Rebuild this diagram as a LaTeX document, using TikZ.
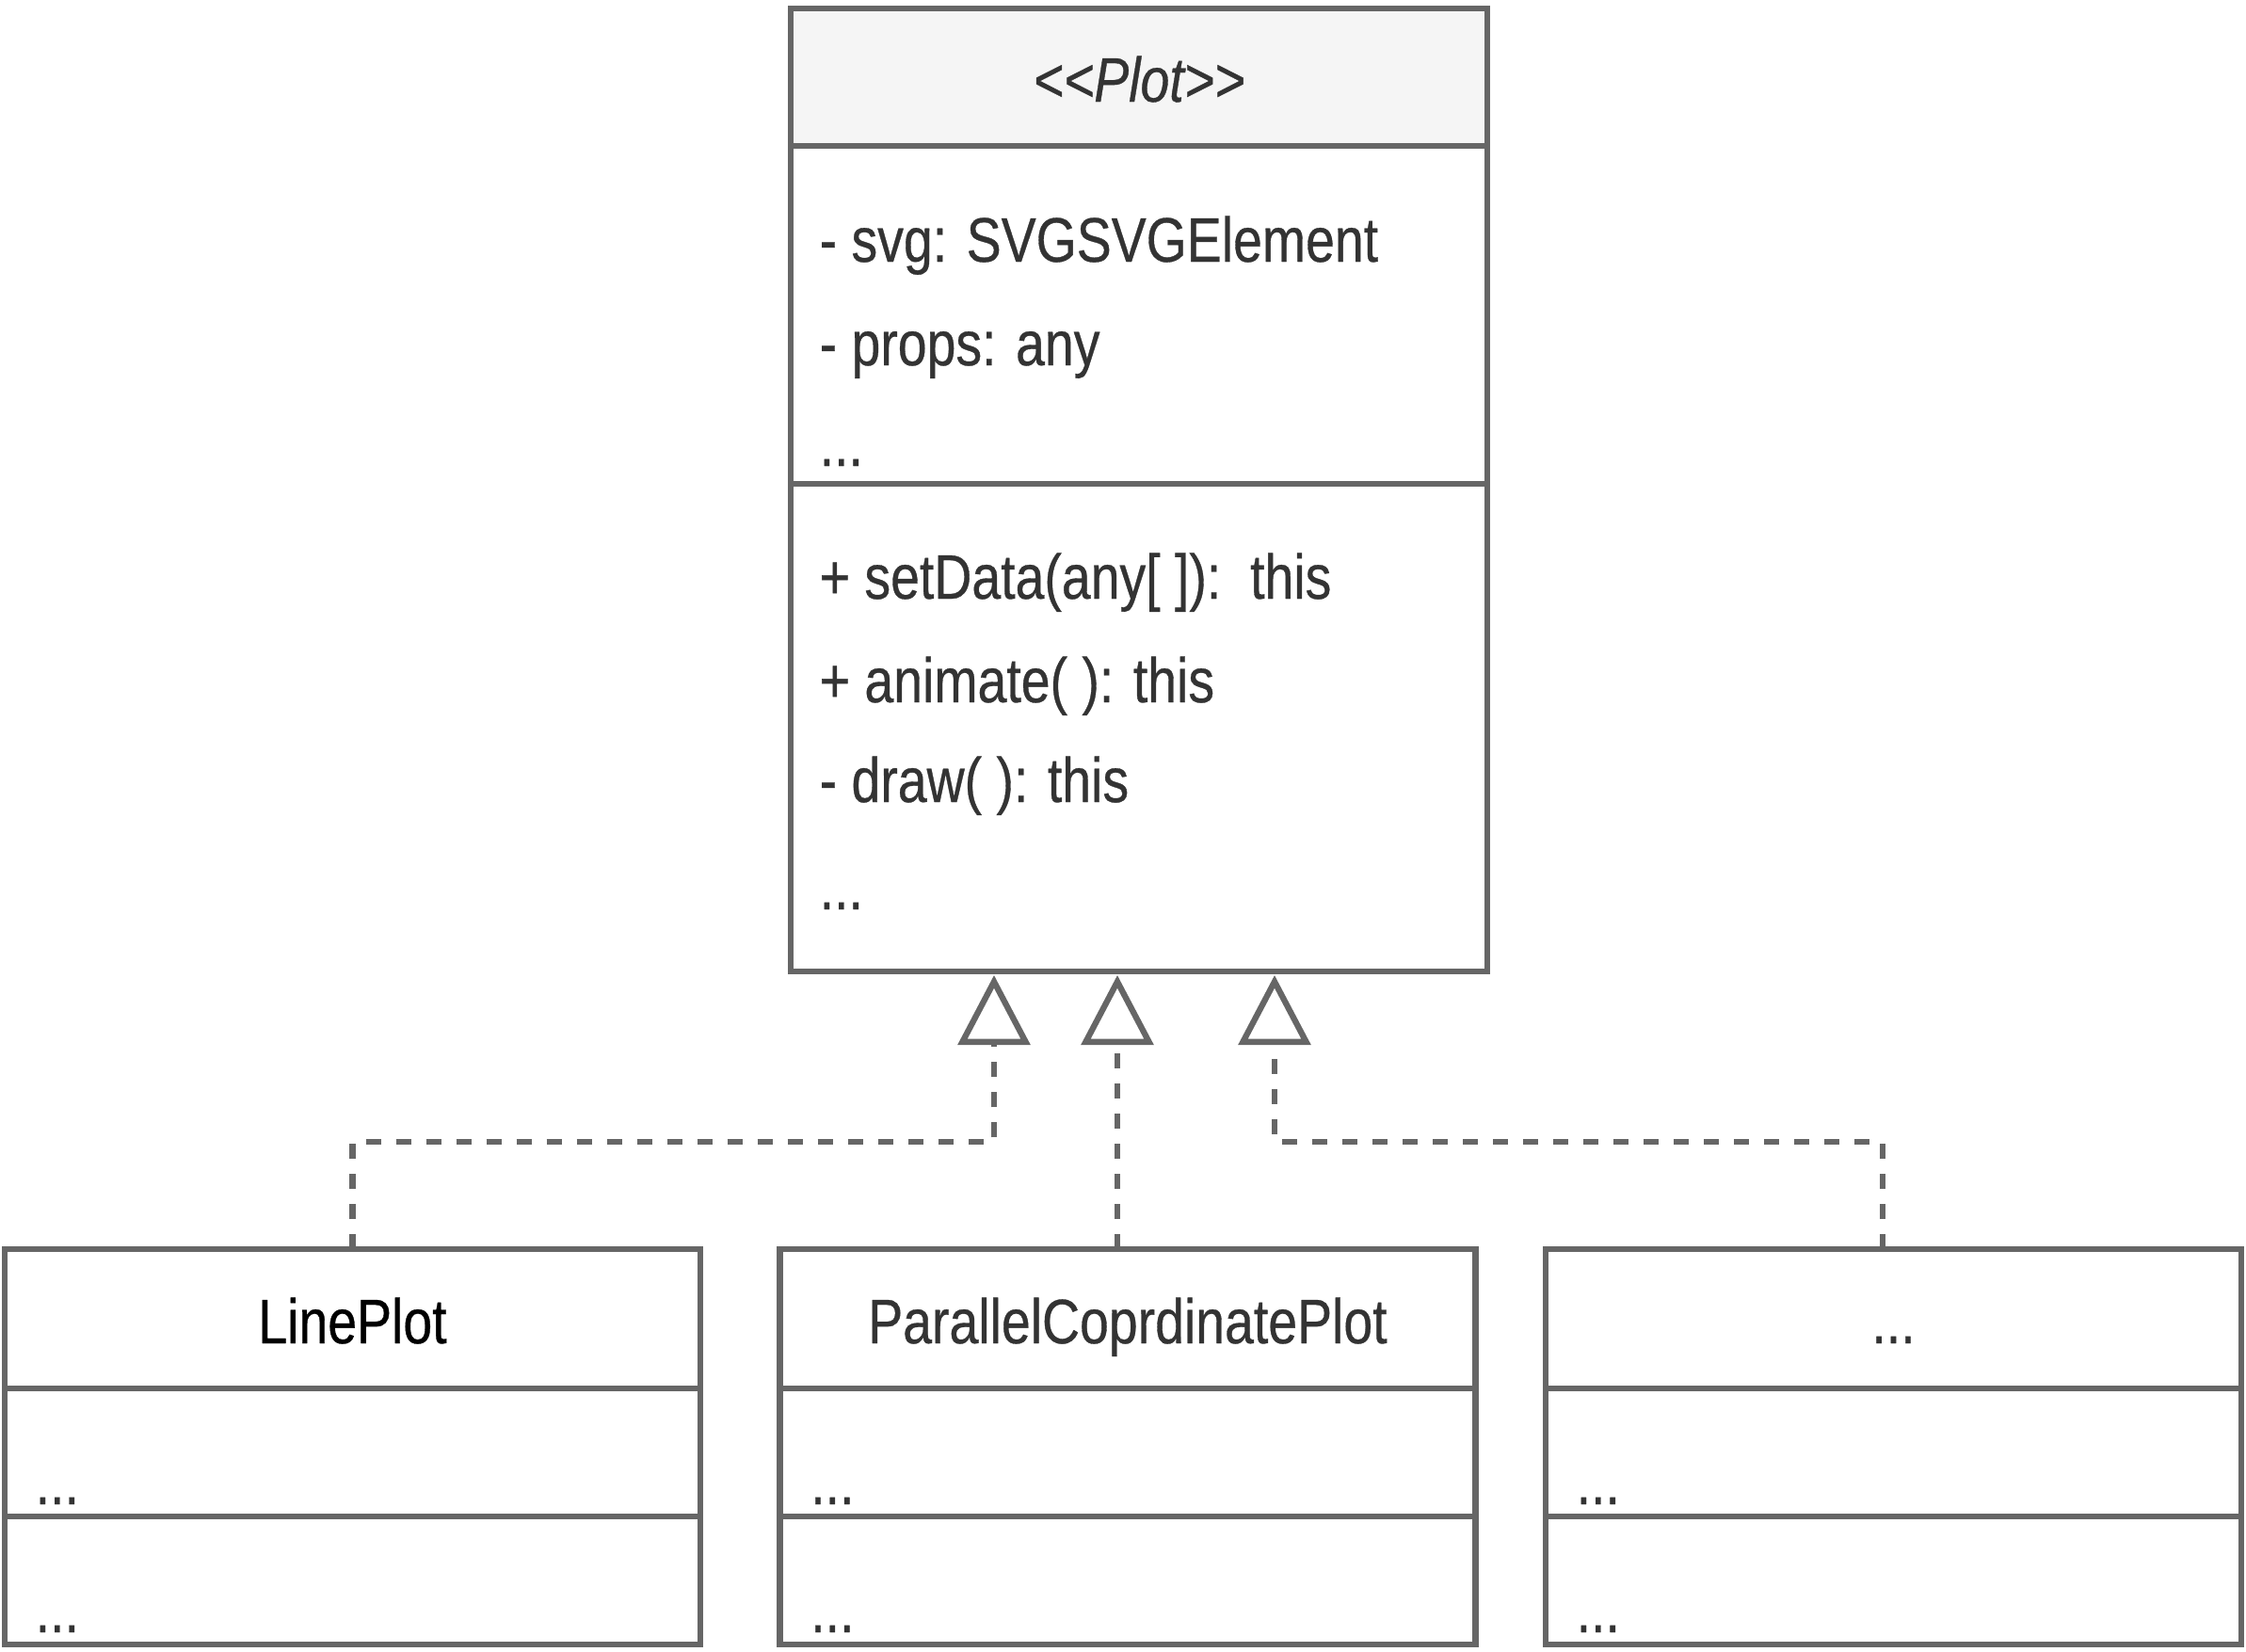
\documentclass[tikz,border=0pt]{standalone}
\usepackage{fontspec}
\setmainfont{Liberation Sans}[FakeStretch=0.83,FakeBold=0.5]
\usetikzlibrary{arrows.meta}
\definecolor{umlline}{HTML}{666666}
\definecolor{umltext}{HTML}{333333}
\definecolor{umlhead}{HTML}{F5F5F5}

\begin{document}
\begin{tikzpicture}[line join=miter,
    box/.style={draw=umlline,line width=1.8pt,rectangle,inner sep=0pt,outer sep=0pt,
      minimum width=7.39cm,text=umltext,text height=14.8pt,text depth=0pt,
      font=\fontsize{19}{22}\selectfont},
    member/.style={anchor=base west,inner sep=0pt,text=umltext,
      font=\fontsize{19}{22}\selectfont},
    realize/.style={draw=umlline,line width=1.8pt,dash pattern=on 0.16cm off 0.16cm,
      -{Triangle[open,length=0.74cm,width=0.76cm]}}]
  \useasboundingbox (0,0) rectangle (23.86,-17.55);

  % Add Plot interface
  \node[box,fill=umlhead,minimum width=7.40cm,minimum height=1.46cm] (plot) at (12.10,-0.82) {\itshape <{}<Plot>{}>};
  \node[box,minimum width=7.40cm,minimum height=3.59cm,anchor=north] (attrs) at (plot.south) {};
  \node[box,minimum width=7.40cm,minimum height=5.18cm,anchor=north] (meths) at (attrs.south) {};

  \node[member] (a1) at (8.70,-2.78) {- svg: SVGSVGElement};
  \node[member] (a2) at (8.70,-3.88) {- props: any};
  \node[member] (a3) at (8.70,-4.95) {...};
  \node[member] (m1) at (8.70,-6.36) {+ setData(any[ ]):\ \ this};
  \node[member] (m2) at (8.70,-7.46) {+ animate( ): this};
  \node[member] (m3) at (8.70,-8.52) {- draw( ): this};
  \node[member] (m4) at (8.70,-9.66) {...};

  % Add subclasses
  \node[box,minimum height=1.48cm,text=black] (lp) at (3.745,-14.01) {LinePlot};
  \node[box,minimum height=1.36cm,anchor=north] (lpattr) at (lp.south) {};
  \node[box,minimum height=1.36cm,anchor=north] (lpmeth) at (lpattr.south) {};
  \node[member] (lpa) at ([shift={(0.32,0.13)}]lpattr.south west) {...};
  \node[member] (lpm) at ([shift={(0.32,0.13)}]lpmeth.south west) {...};

  \node[box,minimum height=1.48cm] (pc) at (11.98,-14.01) {ParallelCoprdinatePlot};
  \node[box,minimum height=1.36cm,anchor=north] (pcattr) at (pc.south) {};
  \node[box,minimum height=1.36cm,anchor=north] (pcmeth) at (pcattr.south) {};
  \node[member] (pca) at ([shift={(0.32,0.13)}]pcattr.south west) {...};
  \node[member] (pcm) at ([shift={(0.32,0.13)}]pcmeth.south west) {...};

  \node[box,minimum height=1.48cm] (dd) at (20.115,-14.01) {...};
  \node[box,minimum height=1.36cm,anchor=north] (ddattr) at (dd.south) {};
  \node[box,minimum height=1.36cm,anchor=north] (ddmeth) at (ddattr.south) {};
  \node[member] (dda) at ([shift={(0.32,0.13)}]ddattr.south west) {...};
  \node[member] (ddm) at ([shift={(0.32,0.13)}]ddmeth.south west) {...};

  % Add realization arrows
  \coordinate (in1) at (10.56,-10.36);
  \coordinate (in2) at (11.87,-10.36);
  \coordinate (in3) at (13.54,-10.36);
  \draw[realize] (lp.north) -- ++(0,1.14) -| (in1);
  \draw[realize] (in2 |- pc.north) -- (in2);
  \draw[realize] ([xshift=-0.115cm]dd.north) -- ++(0,1.14) -| (in3);
\end{tikzpicture}
\end{document}
